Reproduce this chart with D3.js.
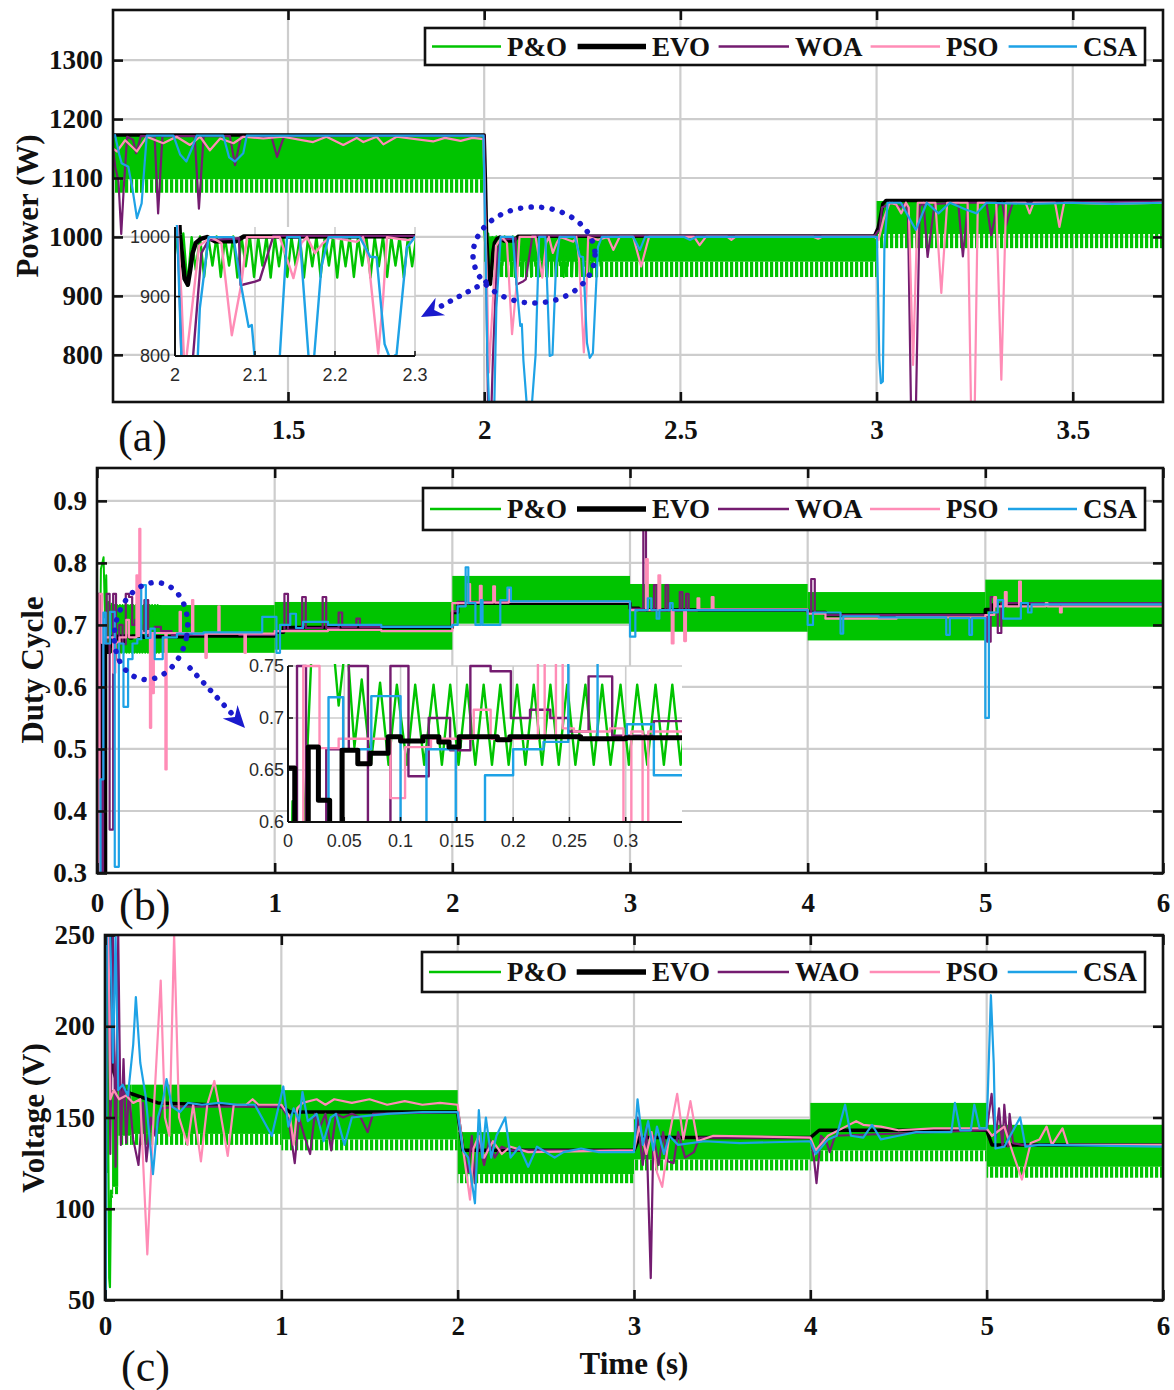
<!DOCTYPE html>
<html>
<head>
<meta charset="utf-8">
<script src="https://cdn.jsdelivr.net/npm/d3@7"></script>
<style>
  body { margin: 0; background: #fff; }
  svg { display: block; }
</style>
</head>
<body>
<svg id="fig" width="1174" height="1390"></svg>
<script>
// ================= data =================
const seriesNames  = ["P&O", "EVO", "WOA", "PSO", "CSA"];
const seriesNamesC = ["P&O", "EVO", "WAO", "PSO", "CSA"];

// ---- (a) power, W ----
const powerTimeTicks = [1.5, 2, 2.5, 3, 3.5];
const powerTickLabels = ["1.5", "2", "2.5", "3", "3.5"];
const powerTicks = [800, 900, 1000, 1100, 1200, 1300];
// P&O envelope: [t start, t end, top, lower edge of solid part, bottom of ripple]
const powerPOBand = [
  [1.054, 2.000, 1172, 1098, 1075],
  [2.000, 3.000, 1001, 958, 932],
  [3.000, 3.730, 1061, 1005, 981]
];
// P&O ripple between 2.0 s and 2.3 s (peaks / troughs)
const powerPORipple = [
  [2.0000,1012],[2.0052,958],[2.0104,1006],[2.0156,918],[2.0208,1000],[2.0260,945],[2.0312,1001],[2.0364,933],
  [2.0416,1000],[2.0468,952],[2.0520,1001],[2.0572,933],[2.0624,1000],[2.0676,952],[2.0728,1001],[2.0780,932],
  [2.0832,1000],[2.0884,951],[2.0936,1001],[2.0988,933],[2.1040,1000],[2.1092,952],[2.1144,1001],[2.1196,932],
  [2.1248,1000],[2.1300,951],[2.1352,1001],[2.1404,933],[2.1456,1000],[2.1508,952],[2.1560,1001],[2.1612,932],
  [2.1664,1000],[2.1716,951],[2.1768,1001],[2.1820,933],[2.1872,1000],[2.1924,952],[2.1976,1001],[2.2028,932],
  [2.2080,1000],[2.2132,951],[2.2184,1001],[2.2236,933],[2.2288,1000],[2.2340,952],[2.2392,1001],[2.2444,932],
  [2.2496,1000],[2.2548,951],[2.2600,1001],[2.2652,933],[2.2704,1000],[2.2756,952],[2.2808,1001],[2.2860,932],
  [2.2912,1000],[2.2964,951],[2.3016,1000]
];
const powerEVO = [
  [1.054,1173],[2.000,1173],[2.003,1100],[2.006,1005],[2.012,930],[2.016,920],[2.019,945],[2.022,973],
  [2.026,990],[2.032,997],[2.040,1000],[2.050,993],[2.076,993],[2.086,1001],[2.995,1002],[3.004,1015],
  [3.010,1035],[3.016,1056],[3.024,1062],[3.730,1062]
];
const powerWOA = [
  [1.054,1150],[1.060,1118],[1.068,1095],[1.075,1005],[1.082,1090],[1.090,1170],[1.105,1165],[1.113,1142],
  [1.125,1171],[1.160,1171],[1.169,1040],[1.180,1171],[1.262,1171],[1.273,1048],[1.285,1171],[1.352,1171],
  [1.365,1122],[1.380,1170],[1.458,1170],[1.472,1136],[1.490,1171],[2.000,1172],[2.006,900],[2.010,700],
  [2.018,700],[2.022,790],[2.033,973],[2.042,995],[2.080,998],[2.082,919],[2.100,925],[2.106,928],
  [2.123,1002],[2.995,1002],[3.004,1010],[3.008,1012],[3.014,1050],[3.040,1058],[3.060,1050],[3.075,1058],
  [3.080,1040],[3.088,700],[3.100,700],[3.110,1052],[3.120,1058],[3.130,966],[3.148,1056],[3.208,1058],
  [3.220,967],[3.233,1058],[3.280,1058],[3.292,1003],[3.309,1055],[3.320,1058],[3.330,1020],[3.347,1058],
  [3.730,1060]
];
const powerPSO = [
  [1.054,1150],[1.064,1145],[1.085,1164],[1.115,1145],[1.140,1170],[1.182,1159],[1.216,1170],[1.250,1156],
  [1.276,1170],[1.301,1147],[1.327,1167],[1.361,1159],[1.386,1170],[1.437,1167],[1.487,1170],[1.564,1161],
  [1.598,1170],[1.641,1156],[1.675,1168],[1.692,1161],[1.726,1170],[1.743,1157],[1.777,1170],[1.870,1162],
  [1.900,1168],[1.940,1163],[1.970,1168],[1.998,1166],[2.004,1000],[2.008,900],[2.012,770],[2.030,985],
  [2.045,1000],[2.058,990],[2.071,835],[2.083,922],[2.090,1000],[2.131,1000],[2.148,931],[2.158,990],
  [2.165,1000],[2.175,973],[2.185,990],[2.194,1000],[2.227,992],[2.235,1000],[2.242,960],[2.254,804],
  [2.260,894],[2.265,1000],[2.290,995],[2.315,1000],[2.329,978],[2.345,1000],[2.380,1000],[2.400,950],
  [2.420,1000],[2.535,1000],[2.549,986],[2.565,1000],[2.620,1000],[2.630,995],[2.640,1000],[2.840,1000],
  [2.851,997],[2.860,1000],[2.995,1000],[3.005,995],[3.018,1030],[3.033,1058],[3.050,1055],[3.063,1040],
  [3.075,1058],[3.082,1050],[3.093,783],[3.105,1058],[3.150,1058],[3.165,905],[3.180,1058],[3.232,1058],
  [3.241,700],[3.250,700],[3.258,1058],[3.305,1058],[3.318,758],[3.330,1058],[3.380,1058],[3.390,1040],
  [3.400,1058],[3.455,1058],[3.466,1017],[3.478,1058],[3.600,1056],[3.730,1058]
];
const powerCSA = [
  [1.054,1170],[1.059,1173],[1.070,1140],[1.076,1125],[1.093,1119],[1.104,1080],[1.115,1032],[1.127,1057],
  [1.140,1172],[1.208,1172],[1.225,1140],[1.241,1128],[1.255,1150],[1.267,1172],[1.335,1172],[1.350,1135],
  [1.365,1128],[1.386,1142],[1.395,1172],[1.998,1172],[2.003,1000],[2.008,800],[2.012,720],[2.026,720],
  [2.031,880],[2.042,1000],[2.073,1000],[2.083,916],[2.092,849],[2.096,852],[2.100,790],[2.108,720],
  [2.122,720],[2.131,800],[2.140,1000],[2.156,1000],[2.167,798],[2.174,800],[2.183,950],[2.192,1000],
  [2.231,1000],[2.244,967],[2.252,966],[2.262,820],[2.269,795],[2.277,803],[2.290,983],[2.300,1000],
  [2.380,1000],[2.397,978],[2.410,1000],[2.510,1000],[2.524,995],[2.540,1000],[2.995,1000],[3.001,1000],
  [3.007,792],[3.011,752],[3.016,755],[3.020,984],[3.028,1058],[3.062,1058],[3.085,1030],[3.100,1012],
  [3.128,1058],[3.158,1040],[3.187,1058],[3.229,1046],[3.255,1040],[3.280,1058],[3.400,1056],[3.500,1058],
  [3.600,1056],[3.730,1058]
];
const powerZoomTimeTicks = [2, 2.1, 2.2, 2.3];
const powerZoomTimeLabels = ["2", "2.1", "2.2", "2.3"];
const powerZoomTicks = [800, 900, 1000];

// ---- (b) duty cycle ----
const timeTicks = [0, 1, 2, 3, 4, 5, 6];
const timeTickLabels = ["0", "1", "2", "3", "4", "5", "6"];
const dutyTicks = [0.3, 0.4, 0.5, 0.6, 0.7, 0.8, 0.9];
const dutyTickLabels = ["0.3", "0.4", "0.5", "0.6", "0.7", "0.8", "0.9"];
// P&O envelope: [t start, t end, top, bottom]
const dutyPOBand = [
  [0.050, 1.000, 0.732, 0.655],
  [1.000, 2.000, 0.737, 0.660],
  [2.000, 3.000, 0.779, 0.702],
  [3.000, 4.000, 0.766, 0.689],
  [4.000, 5.000, 0.753, 0.675],
  [5.000, 6.000, 0.773, 0.697]
];
// P&O start-up and ripple over the first 0.35 s
const dutyPORipple = [
  [0.000,0.300],[0.004,0.620],[0.009,0.470],[0.014,0.590],[0.022,0.790],[0.030,0.800],[0.037,0.809],
  [0.045,0.712],[0.052,0.780],[0.059,0.672],[0.0655,0.737],[0.0735,0.655],[0.0818,0.734],[0.0893,0.655],
  [0.0967,0.732],[0.1056,0.655],[0.1130,0.732],[0.1210,0.655],[0.1293,0.732],[0.1367,0.655],[0.1441,0.732],
  [0.1515,0.655],[0.1590,0.732],[0.1664,0.655],[0.1738,0.732],[0.1812,0.655],[0.1886,0.732],[0.1960,0.655],
  [0.2035,0.732],[0.2109,0.655],[0.2183,0.732],[0.2257,0.655],[0.2331,0.732],[0.2405,0.655],[0.2480,0.732],
  [0.2553,0.655],[0.2642,0.732],[0.2716,0.655],[0.2791,0.732],[0.2865,0.655],[0.2954,0.732],[0.3028,0.655],
  [0.3102,0.732],[0.3191,0.655],[0.3265,0.732],[0.3339,0.655],[0.3414,0.732],[0.3488,0.655],[0.3560,0.732]
];
// step signals: [t, value held until next t]
const dutyEVO = [
  [0,0.652],[0.006,0.30],[0.018,0.672],[0.027,0.621],[0.037,0.30],[0.048,0.669],[0.062,0.656],[0.073,0.666],
  [0.089,0.682],[0.100,0.678],[0.120,0.682],[0.134,0.677],[0.143,0.672],[0.152,0.682],[0.186,0.679],
  [0.197,0.682],[0.260,0.680],[0.300,0.681],[0.500,0.682],[1.000,0.688],[1.050,0.696],[2.000,0.720],
  [2.030,0.735],[3.000,0.727],[3.050,0.724],[4.000,0.720],[4.100,0.716],[5.000,0.725],[5.040,0.732],[6.000,0.732]
];
const dutyWOA = [
  [0,0.30],[0.008,0.75],[0.016,0.45],[0.026,0.30],[0.034,0.670],[0.054,0.75],[0.071,0.37],[0.091,0.75],
  [0.107,0.644],[0.125,0.700],[0.144,0.669],[0.162,0.75],[0.180,0.745],[0.198,0.700],[0.215,0.708],
  [0.233,0.700],[0.249,0.687],[0.267,0.740],[0.288,0.683],[0.325,0.697],[0.360,0.690],[0.420,0.684],
  [0.600,0.686],[0.800,0.684],[1.000,0.690],[1.055,0.750],[1.075,0.692],[1.155,0.745],[1.175,0.695],
  [1.270,0.745],[1.290,0.695],[1.360,0.720],[1.380,0.697],[1.460,0.710],[1.480,0.697],[2.000,0.722],
  [2.030,0.737],[3.000,0.726],[3.075,0.857],[3.090,0.724],[3.135,0.764],[3.150,0.724],[3.200,0.764],
  [3.215,0.724],[3.280,0.753],[3.295,0.724],[3.315,0.750],[3.330,0.724],[4.000,0.720],[4.020,0.774],
  [4.040,0.720],[4.100,0.716],[5.000,0.716],[5.010,0.673],[5.030,0.745],[5.050,0.735],[5.070,0.687],
  [5.090,0.735],[6.000,0.731]
];
const dutyPSO = [
  [0,0.30],[0.0136,0.75],[0.028,0.671],[0.045,0.680],[0.091,0.623],[0.104,0.672],[0.127,0.680],[0.165,0.708],
  [0.180,0.680],[0.222,0.780],[0.228,0.682],[0.238,0.855],[0.244,0.690],[0.254,0.687],[0.286,0.690],
  [0.298,0.534],[0.305,0.687],[0.315,0.590],[0.320,0.687],[0.385,0.467],[0.392,0.687],[0.465,0.721],
  [0.472,0.687],[0.535,0.740],[0.542,0.686],[0.610,0.647],[0.618,0.686],[0.683,0.730],[0.690,0.686],
  [0.830,0.655],[0.838,0.686],[1.000,0.690],[1.300,0.692],[1.600,0.690],[2.000,0.735],[2.090,0.766],
  [2.100,0.736],[2.155,0.763],[2.165,0.736],[2.230,0.762],[2.240,0.736],[2.318,0.758],[2.328,0.737],
  [3.000,0.724],[3.090,0.806],[3.100,0.724],[3.160,0.780],[3.170,0.724],[3.235,0.670],[3.245,0.724],
  [3.305,0.674],[3.315,0.724],[3.380,0.743],[3.390,0.725],[3.460,0.745],[3.470,0.725],[4.000,0.718],
  [4.100,0.710],[4.500,0.712],[5.000,0.716],[5.050,0.745],[5.060,0.730],[5.110,0.753],[5.120,0.730],
  [5.190,0.770],[5.200,0.730],[5.340,0.735],[5.350,0.730],[5.420,0.720],[5.430,0.730],[6.000,0.730]
];
const dutyCSA = [
  [0,0.30],[0.020,0.451],[0.036,0.720],[0.049,0.670],[0.074,0.721],[0.100,0.310],[0.123,0.670],[0.149,0.568],
  [0.175,0.645],[0.200,0.670],[0.227,0.677],[0.249,0.764],[0.275,0.679],[0.301,0.694],[0.325,0.645],
  [0.370,0.680],[0.450,0.686],[0.600,0.688],[0.930,0.713],[1.010,0.655],[1.030,0.700],[1.088,0.718],
  [1.120,0.695],[1.160,0.705],[1.300,0.700],[1.600,0.697],[2.000,0.700],[2.030,0.730],[2.075,0.793],
  [2.090,0.735],[2.130,0.700],[2.160,0.740],[2.170,0.700],[2.270,0.740],[2.310,0.760],[2.330,0.738],
  [3.000,0.681],[3.030,0.724],[3.100,0.743],[3.120,0.724],[3.150,0.710],[3.165,0.724],[3.225,0.735],
  [3.240,0.724],[4.000,0.700],[4.030,0.720],[4.185,0.686],[4.200,0.714],[4.400,0.712],[4.780,0.684],
  [4.800,0.711],[4.910,0.684],[4.925,0.711],[5.000,0.550],[5.020,0.720],[5.070,0.740],[5.100,0.710],
  [5.200,0.735],[5.240,0.720],[5.260,0.733],[6.000,0.733]
];
const dutyZoomTimeTicks = [0, 0.05, 0.1, 0.15, 0.2, 0.25, 0.3];
const dutyZoomTimeLabels = ["0", "0.05", "0.1", "0.15", "0.2", "0.25", "0.3"];
const dutyZoomTicks = [0.6, 0.65, 0.7, 0.75];
const dutyZoomTickLabels = ["0.6", "0.65", "0.7", "0.75"];

// ---- (c) voltage, V ----
const voltTicks = [50, 100, 150, 200, 250];
// P&O envelope: [t start, t end, top, lower edge of solid part, bottom of ripple]
const voltPOBand = [
  [0.040, 0.075, 165, 112, 108],
  [0.075, 0.150, 168, 140, 135],
  [0.150, 1.000, 168, 141, 135],
  [1.000, 2.000, 165, 138, 132],
  [2.000, 3.000, 142, 119, 114],
  [3.000, 4.000, 149, 127, 121],
  [4.000, 5.000, 158, 132, 126],
  [5.000, 6.000, 146, 123, 117]
];
const voltPOStart = [
  [0,50],[0.004,205],[0.008,120],[0.012,250],[0.018,140],[0.024,62],[0.028,57],[0.034,110],[0.040,106]
];
const voltEVO = [
  [0,50],[0.004,250],[0.030,250],[0.050,175],[0.080,166],[0.150,163],[0.300,158],[0.600,157],[1.000,156],
  [1.050,153],[2.000,153],[2.030,132],[3.000,132],[3.030,139],[4.000,139],[4.050,143],[5.000,143],
  [5.030,135],[6.000,135]
];
const voltWOA = [
  [0.010,250],[0.020,250],[0.030,130],[0.045,250],[0.060,123],[0.075,250],[0.090,135],[0.105,182],
  [0.120,136],[0.135,165],[0.160,138],[0.190,124],[0.215,158],[0.235,126],[0.260,150],[0.285,140],
  [0.320,155],[0.400,156],[1.000,156],[1.040,150],[1.076,125],[1.100,150],[1.130,140],[1.163,130],
  [1.190,152],[1.220,145],[1.250,152],[1.283,132],[1.310,152],[1.350,150],[1.400,152],[1.450,150],
  [1.489,142],[1.520,152],[2.000,153],[2.030,132],[2.060,120],[2.080,140],[2.097,114],[2.120,138],
  [2.150,124],[2.180,138],[2.210,128],[2.250,134],[2.300,132],[3.000,132],[3.020,150],[3.050,124],
  [3.070,145],[3.095,62],[3.110,140],[3.140,124],[3.165,142],[3.190,126],[3.225,125],[3.250,142],
  [3.290,128],[3.340,131],[3.370,139],[4.000,139],[4.020,128],[4.035,114],[4.060,140],[4.090,137],
  [4.110,131],[4.140,140],[5.000,143],[5.028,163],[5.050,138],[5.070,155],[5.090,134],[5.100,157],
  [5.120,134],[5.130,152],[5.150,136],[5.200,135],[6.000,135]
];
const voltPSO = [
  [0.020,250],[0.030,160],[0.050,165],[0.080,160],[0.120,162],[0.160,158],[0.200,160],[0.240,75],
  [0.280,160],[0.316,225],[0.340,150],[0.365,140],[0.392,250],[0.420,150],[0.468,135],[0.500,157],
  [0.544,126],[0.580,157],[0.620,170],[0.650,155],[0.696,129],[0.730,157],[0.800,157],[0.837,160],
  [0.870,157],[1.000,157],[1.050,150],[1.070,135],[1.090,155],[1.120,158],[1.200,160],[1.250,157],
  [1.300,160],[1.400,158],[1.500,160],[1.600,157],[1.700,159],[1.800,157],[1.900,158],[2.000,157],
  [2.030,133],[2.070,105],[2.090,133],[2.120,140],[2.150,128],[2.200,137],[2.250,130],[2.300,134],
  [2.400,131],[3.000,132],[3.030,145],[3.070,130],[3.100,142],[3.130,120],[3.160,112],[3.200,140],
  [3.245,163],[3.280,138],[3.320,159],[3.360,137],[3.450,140],[4.000,139],[4.030,132],[4.100,140],
  [4.200,145],[4.260,148],[4.300,146],[4.400,145],[4.500,143],[4.700,144],[5.000,144],[5.030,140],
  [5.100,145],[5.150,130],[5.200,116],[5.250,136],[5.300,138],[5.340,145],[5.370,135],[5.430,144],
  [5.460,135],[6.000,135]
];
const voltCSA = [
  [0.005,50],[0.010,250],[0.030,250],[0.045,180],[0.060,250],[0.075,165],[0.100,168],[0.130,162],
  [0.160,190],[0.175,216],[0.200,180],[0.230,162],[0.272,119],[0.300,150],[0.330,160],[0.349,171],
  [0.380,156],[0.425,153],[0.470,158],[0.550,157],[0.650,158],[0.750,157],[0.850,157],[0.946,140],
  [0.970,150],[1.011,167],[1.040,145],[1.070,155],[1.100,148],[1.120,164],[1.150,148],[1.200,152],
  [1.240,137],[1.280,150],[1.310,152],[1.358,135],[1.400,150],[1.500,151],[1.600,152],[1.800,153],
  [2.000,153],[2.030,132],[2.060,128],[2.098,103],[2.120,154],[2.140,128],[2.160,150],[2.190,128],
  [2.220,140],[2.270,150],[2.300,128],[2.350,134],[2.400,123],[2.450,134],[2.550,128],[2.600,131],
  [2.700,133],[2.800,131],[3.000,131],[3.020,160],[3.050,135],[3.080,148],[3.110,132],[3.130,145],
  [3.170,130],[3.200,140],[3.250,135],[3.400,137],[3.600,136],[4.000,137],[4.030,130],[4.100,138],
  [4.150,140],[4.197,157],[4.230,140],[4.300,139],[4.350,146],[4.400,138],[4.500,140],[4.600,142],
  [4.800,142],[4.820,158],[4.850,143],[4.910,143],[4.930,157],[4.960,144],[5.000,144],[5.024,217],
  [5.040,180],[5.050,133],[5.100,134],[5.190,150],[5.220,134],[5.300,135],[6.000,134]
];

// ================= styles =================
const GREEN = "#00c400", BLACK = "#000000", PURPLE = "#741c70", PINK = "#ff8cb6", BLUE = "#1ea2e6";
const seriesColors = [GREEN, BLACK, PURPLE, PINK, BLUE];
const GRID = "#cdcdcd", INK = "#111";
const SERIF = "'Liberation Serif','Times New Roman',serif";
const SANS = "'Liberation Sans',Arial,sans-serif";
const DOT = "#1a1acd";

const svg = d3.select("#fig");
svg.append("rect").attr("width", 1174).attr("height", 1390).attr("fill", "#fff");
const defs = svg.append("defs");

// vertical ripple texture used for the lower edge of the P&O band
const comb = defs.append("pattern").attr("id", "comb")
  .attr("patternUnits", "userSpaceOnUse").attr("width", 5).attr("height", 20);
comb.append("rect").attr("x", 0).attr("y", 0).attr("width", 3.2).attr("height", 20).attr("fill", GREEN);

// ================= helpers =================
function makeFrame(o) {
  const x = d3.scaleLinear().domain(o.xDomain).range([o.x0, o.x1]);
  const y = d3.scaleLinear().domain(o.yDomain).range([o.y1, o.y0]);
  const g = svg.append("g");
  g.selectAll(".gx").data(o.xTicks).join("line")
    .attr("x1", d => x(d)).attr("x2", d => x(d)).attr("y1", o.y0).attr("y2", o.y1)
    .attr("stroke", GRID).attr("stroke-width", 2.2);
  g.selectAll(".gy").data(o.yTicks).join("line")
    .attr("x1", o.x0).attr("x2", o.x1).attr("y1", d => y(d)).attr("y2", d => y(d))
    .attr("stroke", GRID).attr("stroke-width", 2.2);
  defs.append("clipPath").attr("id", "clip-" + o.id).append("rect")
    .attr("x", o.x0).attr("y", o.y0).attr("width", o.x1 - o.x0).attr("height", o.y1 - o.y0);
  const plot = svg.append("g").attr("clip-path", `url(#clip-${o.id})`);
  return { x, y, plot };
}

function styleAxis(sel, withText) {
  sel.select(".domain").remove();
  sel.selectAll(".tick line").attr("stroke", INK).attr("stroke-width", 2.6);
  if (withText) {
    sel.selectAll("text").attr("font-family", SERIF).attr("font-weight", "bold")
      .attr("font-size", 27).attr("fill", INK);
  } else {
    sel.selectAll("text").remove();
  }
}

function drawAxes(p, o) {
  const { x, y } = p;
  svg.append("g").attr("transform", `translate(0,${o.y1})`)
    .call(d3.axisBottom(x).tickValues(o.xTicks).tickFormat((d, i) => o.xLabels[i]).tickSize(-10).tickPadding(o.xPad))
    .call(s => styleAxis(s, true));
  svg.append("g").attr("transform", `translate(0,${o.y0})`)
    .call(d3.axisTop(x).tickValues(o.xTicks).tickSize(-10))
    .call(s => styleAxis(s, false));
  svg.append("g").attr("transform", `translate(${o.x0},0)`)
    .call(d3.axisLeft(y).tickValues(o.yTicks).tickFormat((d, i) => o.yLabels[i]).tickSize(-10).tickPadding(10))
    .call(s => styleAxis(s, true));
  svg.append("g").attr("transform", `translate(${o.x1},0)`)
    .call(d3.axisRight(y).tickValues(o.yTicks).tickSize(-10))
    .call(s => styleAxis(s, false));
  svg.append("rect").attr("x", o.x0).attr("y", o.y0).attr("width", o.x1 - o.x0).attr("height", o.y1 - o.y0)
    .attr("fill", "none").attr("stroke", INK).attr("stroke-width", 2.6);
}

function drawSeries(target, x, y, data, color, width, curve) {
  target.append("path").datum(data)
    .attr("d", d3.line().x(d => x(d[0])).y(d => y(d[1])).curve(curve || d3.curveLinear))
    .attr("fill", "none").attr("stroke", color).attr("stroke-width", width)
    .attr("stroke-linejoin", "round");
}

// band entries: [t0, t1, top, bottom] (solid) or [t0, t1, top, solidBottom, bottom] (rippled lower edge)
function drawBand(target, x, y, band) {
  band.forEach(b => {
    const solidBottom = b[3];
    target.append("rect").attr("x", x(b[0])).attr("width", x(b[1]) - x(b[0]))
      .attr("y", y(b[2])).attr("height", y(solidBottom) - y(b[2])).attr("fill", GREEN);
    if (b.length === 5) {
      target.append("rect").attr("x", x(b[0])).attr("width", x(b[1]) - x(b[0]))
        .attr("y", y(solidBottom)).attr("height", y(b[4]) - y(solidBottom)).attr("fill", "url(#comb)");
    }
  });
}

function drawLegend(x0, yTop, yBot, names) {
  const g = svg.append("g");
  g.append("rect").attr("x", x0).attr("y", yTop).attr("width", 1145 - x0).attr("height", yBot - yTop)
    .attr("fill", "#fff").attr("stroke", INK).attr("stroke-width", 2.6);
  const cy = (yTop + yBot) / 2;
  const off = x0 - 423;
  const lineX = [[430, 501], [577, 646], [718, 789], [870, 940], [1008, 1077]];
  const textX = [507, 652, 795, 946, 1083];
  const widths = [2.6, 5.5, 2.6, 2.6, 2.6];
  names.forEach((n, i) => {
    g.append("line").attr("x1", lineX[i][0] + off * (i === 0 ? 1 : 0.3)).attr("x2", lineX[i][1])
      .attr("y1", cy).attr("y2", cy).attr("stroke", seriesColors[i]).attr("stroke-width", widths[i]);
    g.append("text").attr("x", textX[i]).attr("y", cy).attr("dy", "0.35em")
      .attr("font-family", SERIF).attr("font-weight", "bold").attr("font-size", 27)
      .attr("fill", INK).text(n);
  });
}

function drawInset(o) {
  const x = d3.scaleLinear().domain(o.xDomain).range([o.x0, o.x1]);
  const y = d3.scaleLinear().domain(o.yDomain).range([o.y1, o.y0]);
  const g = svg.append("g");
  g.append("rect").attr("x", o.x0).attr("y", o.y0).attr("width", o.x1 - o.x0).attr("height", o.y1 - o.y0)
    .attr("fill", "#fff");
  g.selectAll(".gx").data(o.xGrid).join("line")
    .attr("x1", d => x(d)).attr("x2", d => x(d)).attr("y1", o.y0).attr("y2", o.y1)
    .attr("stroke", GRID).attr("stroke-width", 1.6);
  g.selectAll(".gy").data(o.yGrid).join("line")
    .attr("x1", o.x0).attr("x2", o.x1).attr("y1", d => y(d)).attr("y2", d => y(d))
    .attr("stroke", GRID).attr("stroke-width", 1.6);
  defs.append("clipPath").attr("id", "clip-" + o.id).append("rect")
    .attr("x", o.x0).attr("y", o.y0 - 2).attr("width", o.x1 - o.x0).attr("height", o.y1 - o.y0 + 2);
  const plot = g.append("g").attr("clip-path", `url(#clip-${o.id})`);
  o.series.forEach(s => drawSeries(plot, x, y, s.data, s.color, s.width, s.curve));
  // axis lines and small inward ticks
  g.append("line").attr("x1", o.x0).attr("x2", o.x0).attr("y1", o.y0).attr("y2", o.y1)
    .attr("stroke", INK).attr("stroke-width", 2);
  g.append("line").attr("x1", o.x0).attr("x2", o.x1).attr("y1", o.y1).attr("y2", o.y1)
    .attr("stroke", INK).attr("stroke-width", 2);
  g.selectAll(".tx").data(o.xTicks).join("line")
    .attr("x1", d => x(d)).attr("x2", d => x(d)).attr("y1", o.y1).attr("y2", o.y1 - 5)
    .attr("stroke", INK).attr("stroke-width", 1.5);
  g.selectAll(".ty").data(o.yTicks).join("line")
    .attr("x1", o.x0).attr("x2", o.x0 + 5).attr("y1", d => y(d)).attr("y2", d => y(d))
    .attr("stroke", INK).attr("stroke-width", 1.5);
  g.selectAll(".lx").data(o.xTicks).join("text")
    .attr("x", d => x(d)).attr("y", o.y1 + o.xPad).attr("dy", "0.71em").attr("text-anchor", "middle")
    .attr("font-family", SANS).attr("font-size", 18).attr("fill", "#2a2a2a")
    .text((d, i) => o.xLabels[i]);
  g.selectAll(".ly").data(o.yTicks).join("text")
    .attr("x", o.x0 - o.yPad).attr("y", d => y(d)).attr("dy", "0.35em").attr("text-anchor", "end")
    .attr("font-family", SANS).attr("font-size", 18).attr("fill", "#2a2a2a")
    .text((d, i) => o.yLabels[i]);
}

function dottedEllipse(cx, cy, rx, ry, rot) {
  svg.append("ellipse").attr("cx", cx).attr("cy", cy).attr("rx", rx).attr("ry", ry)
    .attr("transform", `rotate(${rot},${cx},${cy})`)
    .attr("fill", "none").attr("stroke", DOT).attr("stroke-width", 5.5)
    .attr("stroke-linecap", "round").attr("stroke-dasharray", "0.1 10.5");
}

function dottedArrow(x1, y1, x2, y2) {
  const len = Math.hypot(x2 - x1, y2 - y1);
  const ux = (x2 - x1) / len, uy = (y2 - y1) / len;
  const hl = 22, hw = 10;
  const bx = x2 - ux * hl, by = y2 - uy * hl;
  svg.append("line").attr("x1", x1).attr("y1", y1).attr("x2", bx + ux * 4).attr("y2", by + uy * 4)
    .attr("stroke", DOT).attr("stroke-width", 5.5).attr("stroke-linecap", "round")
    .attr("stroke-dasharray", "0.1 10");
  const px = -uy * hw, py = ux * hw;
  const nx = bx + ux * 7, ny = by + uy * 7;
  svg.append("path")
    .attr("d", `M${x2},${y2} L${bx + px},${by + py} L${nx},${ny} L${bx - px},${by - py} Z`)
    .attr("fill", DOT);
}

function axisTitle(text, x, y, rotate) {
  svg.append("text").attr("transform", `translate(${x},${y}) rotate(${rotate})`)
    .attr("text-anchor", "middle").attr("dy", "0.35em")
    .attr("font-family", SERIF).attr("font-weight", "bold").attr("font-size", 31)
    .attr("fill", INK).text(text);
}

function panelLabel(text, x, y) {
  svg.append("text").attr("x", x).attr("y", y).attr("dy", "0.35em")
    .attr("font-family", SERIF).attr("font-size", 44).attr("fill", INK).text(text);
}

// ================= (a) power =================
{
  const o = { id: "a", xDomain: [1.054, 3.73], yDomain: [720, 1385], x0: 113, x1: 1163, y0: 10, y1: 402,
    xTicks: powerTimeTicks, xLabels: powerTickLabels, yTicks: powerTicks,
    yLabels: powerTicks.map(String), xPad: 18 };
  const p = makeFrame(o);
  drawBand(p.plot, p.x, p.y, powerPOBand);
  drawSeries(p.plot, p.x, p.y, powerPORipple, GREEN, 2);
  drawSeries(p.plot, p.x, p.y, powerEVO, BLACK, 3.5);
  drawSeries(p.plot, p.x, p.y, powerWOA, PURPLE, 2.2);
  drawSeries(p.plot, p.x, p.y, powerPSO, PINK, 2.2);
  drawSeries(p.plot, p.x, p.y, powerCSA, BLUE, 2.2);
  drawAxes(p, o);
  drawLegend(425, 28, 65, seriesNames);
  drawInset({ id: "ai", xDomain: [2, 2.3], yDomain: [800, 1017], x0: 175, x1: 415, y0: 227, y1: 356,
    xGrid: [2.1, 2.2, 2.3], yGrid: [900, 1000], xTicks: powerZoomTimeTicks, xLabels: powerZoomTimeLabels,
    yTicks: powerZoomTicks, yLabels: powerZoomTicks.map(String), xPad: 12, yPad: 5,
    series: [
      { data: powerPORipple, color: GREEN, width: 2.4 },
      { data: powerEVO, color: BLACK, width: 4.5 },
      { data: powerWOA, color: PURPLE, width: 2.4 },
      { data: powerPSO, color: PINK, width: 2.4 },
      { data: powerCSA, color: BLUE, width: 2.4 }
    ] });
  dottedEllipse(534, 255, 61, 48, 0);
  dottedArrow(486, 282, 421, 317);
  axisTitle("Power (W)", 27, 206, -90);
  panelLabel("(a)", 118, 436);
}

// ================= (b) duty cycle =================
{
  const o = { id: "b", xDomain: [0, 6], yDomain: [0.3, 0.953], x0: 97, x1: 1163, y0: 468, y1: 873,
    xTicks: timeTicks, xLabels: timeTickLabels, yTicks: dutyTicks, yLabels: dutyTickLabels, xPad: 20 };
  const p = makeFrame(o);
  drawBand(p.plot, p.x, p.y, dutyPOBand);
  drawSeries(p.plot, p.x, p.y, dutyPORipple, GREEN, 2);
  drawSeries(p.plot, p.x, p.y, dutyEVO, BLACK, 3.5, d3.curveStepAfter);
  drawSeries(p.plot, p.x, p.y, dutyWOA, PURPLE, 2.2, d3.curveStepAfter);
  drawSeries(p.plot, p.x, p.y, dutyPSO, PINK, 2.2, d3.curveStepAfter);
  drawSeries(p.plot, p.x, p.y, dutyCSA, BLUE, 2.2, d3.curveStepAfter);
  drawAxes(p, o);
  drawLegend(423, 488, 530, seriesNames);
  drawInset({ id: "bi", xDomain: [0, 0.35], yDomain: [0.6, 0.75], x0: 288, x1: 682, y0: 666, y1: 822,
    xGrid: [0.05, 0.1, 0.15, 0.2, 0.25, 0.3], yGrid: [0.65, 0.7, 0.75],
    xTicks: dutyZoomTimeTicks, xLabels: dutyZoomTimeLabels,
    yTicks: dutyZoomTicks, yLabels: dutyZoomTickLabels, xPad: 12, yPad: 4,
    series: [
      { data: dutyPORipple, color: GREEN, width: 2.4 },
      { data: dutyWOA, color: PURPLE, width: 2.4, curve: d3.curveStepAfter },
      { data: dutyPSO, color: PINK, width: 2.4, curve: d3.curveStepAfter },
      { data: dutyCSA, color: BLUE, width: 2.4, curve: d3.curveStepAfter },
      { data: dutyEVO, color: BLACK, width: 5, curve: d3.curveStepAfter }
    ] });
  dottedEllipse(151, 631, 36, 49, 12);
  dottedArrow(190, 668, 245, 728);
  axisTitle("Duty Cycle", 32, 670, -90);
  panelLabel("(b)", 119, 905);
}

// ================= (c) voltage =================
{
  const o = { id: "c", xDomain: [0, 6], yDomain: [50, 250], x0: 105, x1: 1163, y0: 935, y1: 1300,
    xTicks: timeTicks, xLabels: timeTickLabels, yTicks: voltTicks, yLabels: voltTicks.map(String), xPad: 16 };
  const p = makeFrame(o);
  drawBand(p.plot, p.x, p.y, voltPOBand);
  drawSeries(p.plot, p.x, p.y, voltPOStart, GREEN, 2.2);
  drawSeries(p.plot, p.x, p.y, voltEVO, BLACK, 3.5);
  drawSeries(p.plot, p.x, p.y, voltWOA, PURPLE, 2.2);
  drawSeries(p.plot, p.x, p.y, voltPSO, PINK, 2.2);
  drawSeries(p.plot, p.x, p.y, voltCSA, BLUE, 2.2);
  drawAxes(p, o);
  drawLegend(422, 952, 992, seriesNamesC);
  axisTitle("Voltage (V)", 33, 1118, -90);
  axisTitle("Time (s)", 634, 1363, 0);
  panelLabel("(c)", 121, 1366);
}
</script>
</body>
</html>
